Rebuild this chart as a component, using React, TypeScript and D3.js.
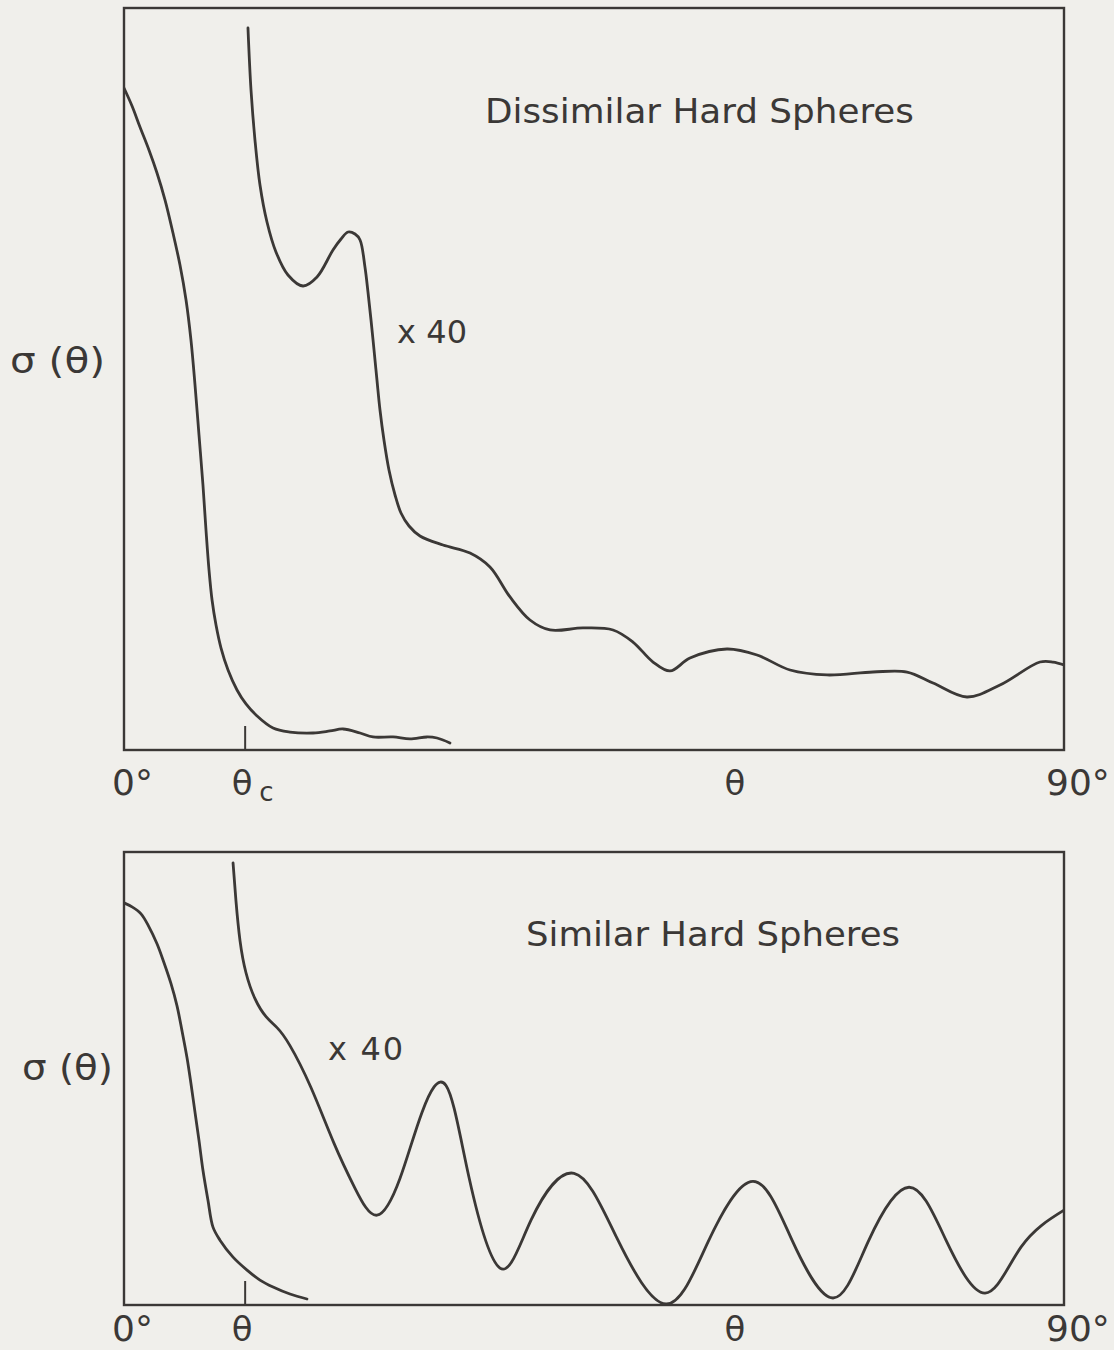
import React from "react";
import * as d3 from "d3";

const W = 1114;
const H = 1350;

// Scattering angle (degrees) and relative cross section σ(θ), dissimilar hard spheres
const dissimilarAngle = [0, 0.77, 1.53, 2.39, 3.16, 3.93, 4.69, 5.36, 5.94, 6.41, 6.8, 7.18, 7.56, 7.85, 8.14, 8.43, 8.81, 9.29, 9.96, 10.82, 11.68, 12.64, 14.27, 15.89, 18.1, 19.72, 20.97, 22.6, 23.84, 25.76, 27.38, 29.01, 29.97, 31.21];
const dissimilarSigma = [89.46, 87.03, 84.19, 81.08, 77.97, 74.32, 69.86, 65.54, 60.81, 55.41, 49.32, 42.57, 35.81, 29.73, 24.32, 20.27, 16.89, 13.78, 10.81, 8.11, 6.22, 4.73, 2.97, 2.43, 2.3, 2.57, 2.84, 2.3, 1.76, 1.76, 1.49, 1.76, 1.62, 0.95];

// Same cross section magnified ×40
const dissimilarX40Angle = [11.87, 12.16, 12.54, 13.02, 13.69, 14.55, 15.7, 17.14, 18.48, 20.01, 20.78, 21.45, 22.12, 22.6, 23.07, 23.36, 23.65, 23.94, 24.22, 24.51, 24.89, 25.37, 25.95, 26.52, 27.29, 28.34, 30.54, 33.13, 35.04, 36.96, 38.87, 40.79, 43.95, 46.82, 48.73, 50.65, 52.28, 54.19, 57.73, 60.61, 63.77, 67.31, 71.71, 74.97, 77.46, 80.71, 83.87, 87.7, 88.95, 90];
const dissimilarX40Sigma = [97.57, 89.19, 82.43, 76.35, 71.35, 67.3, 64.19, 62.7, 63.92, 67.57, 69.05, 70.0, 69.73, 68.92, 65.27, 61.89, 58.11, 54.05, 50.0, 45.95, 41.89, 37.84, 34.46, 32.03, 30.27, 28.92, 27.7, 26.62, 24.73, 20.68, 17.57, 16.22, 16.49, 16.22, 14.59, 11.89, 10.68, 12.43, 13.65, 12.84, 10.81, 10.14, 10.54, 10.54, 9.05, 7.16, 8.78, 11.89, 11.89, 11.49];

// Similar hard spheres
const similarAngle = [0, 0.77, 1.63, 2.39, 3.16, 3.83, 4.5, 5.07, 5.55, 6.03, 6.41, 6.8, 7.18, 7.56, 8.04, 8.52, 9.19, 10.44, 11.78, 13.02, 14.27, 15.89, 17.52];
const similarSigma = [89.16, 88.27, 86.73, 83.85, 80.09, 75.88, 71.24, 66.37, 60.84, 54.87, 49.12, 42.7, 36.5, 29.87, 23.23, 17.26, 14.38, 10.62, 7.74, 5.53, 3.98, 2.43, 1.33];

const similarX40Angle = [10.44, 10.72, 11.11, 11.68, 12.54, 13.6, 14.65, 15.89, 17.9, 20.11, 22.12, 24.22, 26.43, 28.53, 30.83, 33.03, 36.0, 38.97, 43.09, 47.2, 51.89, 55.91, 60.22, 63.96, 67.88, 71.23, 75.16, 78.7, 82.44, 85.88, 90];
const similarX40Sigma = [98.01, 89.6, 80.75, 73.67, 67.92, 63.94, 61.5, 57.52, 48.23, 35.84, 25.88, 19.91, 28.1, 42.7, 48.67, 28.32, 8.19, 18.81, 29.2, 14.82, 0.22, 13.94, 27.43, 14.38, 1.55, 13.94, 26.11, 14.38, 2.65, 12.83, 21.02];

const angleDomain = [0, 90];
const sigmaDomain = [0, 100];
const criticalAngle = 11.6;
// angle at which the generic θ axis label sits
const axisLabelAngle = 58.5;

const INK = "#3b3836";
const PAPER = "#f0efeb";
const FONT = "'DejaVu Sans', 'Open Sans', sans-serif";

type Series = { angle: number[]; sigma: number[]; curve: d3.CurveFactory };

type PanelProps = {
  top: number;
  bottom: number;
  title: string;
  titleX: number;
  titleY: number;
  titleLen: number;
  magLabelX: number;
  magLabelY: number;
  magLabelLen: number;
  yLabelX: number;
  yLabelY: number;
  yLabelLen: number;
  tickLabelY: number;
  subscript: boolean;
  curves: Series[];
};

const left = 124;
const right = 1064;

const x = d3.scaleLinear().domain(angleDomain).range([left, right]);
const smooth = d3.curveCatmullRom.alpha(0.5);

function Panel(p: PanelProps) {
  const y = d3.scaleLinear().domain(sigmaDomain).range([p.bottom, p.top + 2]);

  return (
    <g>
      <rect
        x={left}
        y={p.top}
        width={right - left}
        height={p.bottom - p.top}
        fill="none"
        stroke={INK}
        strokeWidth={2.4}
      />
      <line
        x1={x(criticalAngle)}
        x2={x(criticalAngle)}
        y1={p.bottom}
        y2={p.bottom - 24}
        stroke={INK}
        strokeWidth={2}
      />
      <clipPath id={`clip-${p.top}`}>
        <rect x={left} y={p.top} width={right - left} height={p.bottom - p.top - 1} />
      </clipPath>
      <g clipPath={`url(#clip-${p.top})`}>
        {p.curves.map((s, i) => {
          const line = d3
            .line<[number, number]>()
            .x((d) => x(d[0]))
            .y((d) => y(d[1]))
            .curve(s.curve);
          return (
            <path
              key={i}
              d={line(s.angle.map((a, j) => [a, s.sigma[j]] as [number, number])) || ""}
              fill="none"
              stroke={INK}
              strokeWidth={2.8}
              strokeLinecap="round"
              strokeLinejoin="round"
            />
          );
        })}
      </g>
      <g fill={INK} fontFamily={FONT}>
        <text
          x={p.titleX}
          y={p.titleY}
          fontSize={34}
          textLength={p.titleLen}
          lengthAdjust="spacingAndGlyphs"
        >
          {p.title}
        </text>
        <text
          x={p.magLabelX}
          y={p.magLabelY}
          fontSize={32}
          textLength={p.magLabelLen}
          lengthAdjust="spacing"
        >
          x 40
        </text>
        <text
          x={p.yLabelX}
          y={p.yLabelY}
          fontSize={36}
          textLength={p.yLabelLen}
          lengthAdjust="spacingAndGlyphs"
        >
          σ (θ)
        </text>
        <text x={x(0) - 12} y={p.tickLabelY} fontSize={36}>
          0°
        </text>
        <text x={x(criticalAngle) - 3} y={p.tickLabelY} fontSize={34} textAnchor="middle">
          θ
        </text>
        {p.subscript && (
          <text x={x(criticalAngle) + 14} y={p.tickLabelY + 6} fontSize={26}>
            c
          </text>
        )}
        <text x={x(axisLabelAngle)} y={p.tickLabelY} fontSize={34} textAnchor="middle">
          θ
        </text>
        <text x={x(90) - 18} y={p.tickLabelY} fontSize={36}>
          90°
        </text>
      </g>
    </g>
  );
}

export default function App() {
  return (
    <div>
      <svg
        width={W}
        height={H}
        style={{ position: "absolute", left: 0, top: 0, display: "block" }}
      >
        <rect x={0} y={0} width={W} height={H} fill={PAPER} />
        <Panel
          top={8}
          bottom={750}
          title="Dissimilar Hard Spheres"
          titleX={485}
          titleY={123}
          titleLen={429}
          magLabelX={397}
          magLabelY={343}
          magLabelLen={70}
          yLabelX={10}
          yLabelY={373}
          yLabelLen={95}
          tickLabelY={795}
          subscript={true}
          curves={[
            { angle: dissimilarAngle, sigma: dissimilarSigma, curve: smooth },
            { angle: dissimilarX40Angle, sigma: dissimilarX40Sigma, curve: smooth },
          ]}
        />
        <Panel
          top={852}
          bottom={1305}
          title="Similar Hard Spheres"
          titleX={526}
          titleY={946}
          titleLen={374}
          magLabelX={328}
          magLabelY={1060}
          magLabelLen={75}
          yLabelX={22}
          yLabelY={1080}
          yLabelLen={91}
          tickLabelY={1341}
          subscript={false}
          curves={[
            { angle: similarAngle, sigma: similarSigma, curve: smooth },
            { angle: similarX40Angle, sigma: similarX40Sigma, curve: d3.curveNatural },
          ]}
        />
      </svg>
    </div>
  );
}
